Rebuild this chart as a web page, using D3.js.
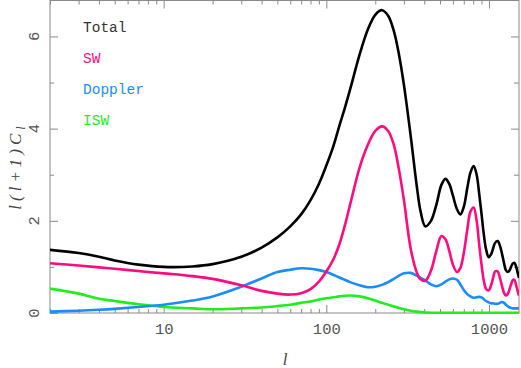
<!DOCTYPE html>
<html>
<head>
<meta charset="utf-8">
<script src="https://cdn.jsdelivr.net/npm/d3@7"></script>
<style>
  body { margin: 0; background: #fff; }
  svg { display: block; }
</style>
</head>
<body>
<svg id="chart"></svg>
<script>
// multipole l and the four contributions to l(l+1)C_l
var ell = [2, 3, 4, 5, 7, 10, 15, 20, 30, 40, 50, 60, 70, 80, 90, 100, 110, 120, 130, 140, 160, 180,
    200, 220, 240, 260, 280, 300, 330, 360, 380, 406, 440, 475, 510, 540, 570, 600, 636, 667,
    700, 735, 770, 805, 840, 870, 900, 930, 960, 996, 1030, 1060, 1090, 1132, 1170, 1200,
    1240, 1270, 1303, 1340, 1370, 1400, 1434, 1470, 1500, 1530];

var total = [1.37, 1.30, 1.22, 1.14, 1.05, 1.00, 1.01, 1.06, 1.22, 1.42, 1.64, 1.88, 2.14, 2.45, 2.8, 3.2, 3.6, 4.05, 4.45, 4.85, 5.6, 6.15,
    6.47, 6.57, 6.45, 6.12, 5.6, 4.95, 3.85, 2.75, 2.2, 1.88, 2.0, 2.35, 2.78, 2.91, 2.8, 2.55, 2.25, 2.14,
    2.3, 2.7, 3.05, 3.19, 3.0, 2.6, 2.15, 1.7, 1.38, 1.21, 1.27, 1.4, 1.52, 1.56, 1.45, 1.3,
    1.07, 0.93, 0.89, 0.93, 1.01, 1.07, 1.09, 1.0, 0.88, 0.76];

var sw = [1.08, 1.03, 0.99, 0.96, 0.91, 0.86, 0.80, 0.74, 0.60, 0.48, 0.42, 0.40, 0.43, 0.52, 0.68, 0.9, 1.15, 1.48, 1.9, 2.35, 3.15, 3.65,
    3.95, 4.05, 3.95, 3.65, 3.1, 2.45, 1.4, 0.88, 0.73, 0.70, 0.92, 1.35, 1.67, 1.6, 1.35, 1.05, 0.89, 0.98,
    1.3, 1.8, 2.2, 2.29, 2.0, 1.5, 1.05, 0.7, 0.52, 0.49, 0.6, 0.76, 0.9, 0.9, 0.75, 0.6,
    0.43, 0.38, 0.41, 0.52, 0.63, 0.71, 0.72, 0.6, 0.48, 0.38];

var doppler = [0.03, 0.05, 0.07, 0.09, 0.13, 0.18, 0.27, 0.36, 0.57, 0.75, 0.89, 0.94, 0.97, 0.96, 0.93, 0.89, 0.83, 0.77, 0.72, 0.67, 0.60, 0.56,
    0.57, 0.61, 0.67, 0.74, 0.81, 0.86, 0.87, 0.81, 0.76, 0.71, 0.62, 0.58, 0.62, 0.68, 0.73, 0.75, 0.72, 0.62,
    0.50, 0.41, 0.36, 0.33, 0.34, 0.35, 0.34, 0.30, 0.26, 0.23, 0.21, 0.21, 0.20, 0.20, 0.22, 0.24,
    0.22, 0.18, 0.15, 0.12, 0.11, 0.10, 0.10, 0.10, 0.10, 0.10];

var isw = [0.53, 0.42, 0.31, 0.26, 0.19, 0.13, 0.10, 0.08, 0.10, 0.12, 0.15, 0.18, 0.22, 0.25, 0.29, 0.32, 0.34, 0.36, 0.375, 0.38, 0.36, 0.32,
    0.27, 0.22, 0.18, 0.14, 0.11, 0.08, 0.05, 0.03, 0.02, 0.012, 0.007, 0.005, 0.005, 0.005, 0.005, 0.005, 0.005, 0.005,
    0.005, 0.005, 0.005, 0.005, 0.005, 0.005, 0.005, 0.005, 0.005, 0.005, 0.005, 0.005, 0.005, 0.005, 0.005, 0.005,
    0.005, 0.005, 0.005, 0.005, 0.005, 0.005, 0.005, 0.005, 0.005, 0.005];

var seriesNames = ["Total", "SW", "Doppler", "ISW"];
var seriesColors = ["#000000", "#ff0a7f", "#1a8cff", "#1eee1e"];
var xMajor = [10, 100, 1000];
var yMajor = [0, 2, 4, 6];

var width = 521,
    height = 368,
    margin = { top: 0.5, right: 2, bottom: 55, left: 50 };

var x = d3.scaleLog()
    .domain([2, 1530])
    .range([margin.left, width - margin.right]);

var y = d3.scaleLinear()
    .domain([0, 6.78])
    .range([height - margin.bottom, margin.top]);

var xMinor = [];
[1, 10, 100, 1000].forEach(function (d) {
    for (var k = 2; k <= 9; k++) if (d * k >= 2 && d * k <= 1530) xMinor.push(d * k);
});
var yMinor = [1, 3, 5];

var svg = d3.select("#chart")
    .attr("width", width)
    .attr("height", height);

var axisColor = "#8a8a8a";
var labelFont = "'Liberation Mono', 'DejaVu Sans Mono', monospace";

// ticks on all four sides, pointing inwards
function styleAxis(g) {
    g.select(".domain").remove();
    g.selectAll(".tick line").attr("stroke", axisColor);
    g.selectAll("text").attr("fill", "#555").style("font", "15.5px " + labelFont);
}

svg.append("g")
    .attr("transform", "translate(0," + y(0) + ")")
    .call(d3.axisBottom(x).tickValues(xMajor).tickSize(-8).tickPadding(10).tickFormat(d3.format("d")))
    .call(styleAxis);
svg.append("g")
    .attr("transform", "translate(0," + y(0) + ")")
    .call(d3.axisBottom(x).tickValues(xMinor).tickSize(-4).tickFormat(""))
    .call(styleAxis);
svg.append("g")
    .attr("transform", "translate(0," + margin.top + ")")
    .call(d3.axisTop(x).tickValues(xMajor).tickSize(-8).tickFormat(""))
    .call(styleAxis);
svg.append("g")
    .attr("transform", "translate(0," + margin.top + ")")
    .call(d3.axisTop(x).tickValues(xMinor).tickSize(-4).tickFormat(""))
    .call(styleAxis);

svg.append("g")
    .attr("transform", "translate(" + margin.left + ",0)")
    .call(d3.axisLeft(y).tickValues(yMajor).tickSize(-8).tickFormat(""))
    .call(styleAxis);
svg.append("g")
    .attr("transform", "translate(" + margin.left + ",0)")
    .call(d3.axisLeft(y).tickValues(yMinor).tickSize(-4).tickFormat(""))
    .call(styleAxis);
svg.append("g")
    .attr("transform", "translate(" + (width - margin.right) + ",0)")
    .call(d3.axisRight(y).tickValues(yMajor).tickSize(-8).tickFormat(""))
    .call(styleAxis);
svg.append("g")
    .attr("transform", "translate(" + (width - margin.right) + ",0)")
    .call(d3.axisRight(y).tickValues(yMinor).tickSize(-5).tickFormat(""))
    .call(styleAxis);

// rotated y tick labels
svg.append("g")
    .selectAll("text")
    .data(yMajor)
    .join("text")
    .attr("transform", d => "translate(39," + y(d) + ") rotate(-90)")
    .attr("text-anchor", "middle")
    .attr("fill", "#555")
    .style("font", "15.5px " + labelFont)
    .text(d => d);

// frame
svg.append("rect")
    .attr("x", margin.left)
    .attr("y", margin.top)
    .attr("width", width - margin.right - margin.left)
    .attr("height", y(0) - margin.top)
    .attr("fill", "none")
    .attr("stroke", axisColor);

svg.append("clipPath")
    .attr("id", "clip")
    .append("rect")
    .attr("x", margin.left)
    .attr("y", margin.top)
    .attr("width", width - margin.right - margin.left)
    .attr("height", y(0) - margin.top + 2);

var line = d3.line()
    .x((d, i) => x(ell[i]))
    .y(d => y(d))
    .curve(d3.curveCatmullRom.alpha(0.5));

var series = [total, sw, doppler, isw];

svg.append("g")
    .attr("clip-path", "url(#clip)")
    .selectAll("path")
    .data(series.slice().reverse())
    .join("path")
    .attr("d", d => line(d))
    .attr("fill", "none")
    .attr("stroke", (d, i) => seriesColors[3 - i])
    .attr("stroke-width", 2.6)
    .attr("stroke-linejoin", "round");

// legend
svg.append("g")
    .selectAll("text")
    .data(seriesNames)
    .join("text")
    .attr("x", 83)
    .attr("y", (d, i) => 32 + i * 31)
    .attr("fill", (d, i) => i === 0 ? "#333" : seriesColors[i])
    .style("font", "14.5px " + labelFont)
    .text(d => d);

// axis titles
svg.append("text")
    .attr("x", 285)
    .attr("y", 365)
    .attr("text-anchor", "middle")
    .attr("fill", "#444")
    .style("font", "italic 17px 'Liberation Serif', serif")
    .text("l");

var ylab = svg.append("text")
    .attr("transform", "translate(21,166) rotate(-90)")
    .attr("text-anchor", "middle")
    .attr("fill", "#444")
    .style("font", "italic 17px 'Liberation Serif', serif")
    .style("letter-spacing", "4px");
ylab.append("tspan").text("l(l+1)C");
ylab.append("tspan").attr("dy", 4).style("font-size", "12px").text("l");
</script>
</body>
</html>
